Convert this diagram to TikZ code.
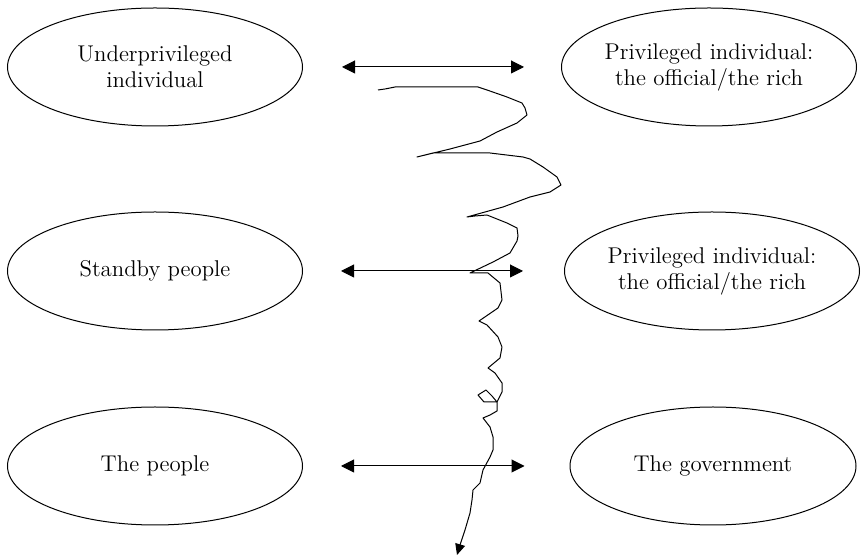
\documentclass[tikz,border=0pt]{standalone}
\usetikzlibrary{shapes.geometric, arrows.meta}

\begin{document}
\begin{tikzpicture}[x=0.5pt, y=-0.5pt,
    party/.style={draw, ellipse, line width=0.5pt, minimum width=147.5pt, minimum height=59pt,
        inner sep=0pt, inner xsep=-1.5pt, align=center, font=\fontsize{11.4}{13}\selectfont},
    relation/.style={line width=0.5pt, {Triangle[length=6.5pt,width=6.5pt]}-{Triangle[length=6.5pt,width=6.5pt]}}]
\useasboundingbox (0,0) rectangle (862,560);

% Left column
\node[party] (under) at (155,67) {Underprivileged\\individual};
\node[party] (standby) at (155,271) {Standby people};
\node[party] (people) at (155,466) {The people};

% Right column
\node[party] (priv1) at (709,67) {Privileged individual:\\the official/the rich};
\node[party] (priv2) at (712,271) {Privileged individual:\\the official/the rich};
\node[party, minimum width=143pt] (gov) at (713,466) {The government};

% Relations
\draw[relation, shorten <=19.5pt, shorten >=18.5pt] (under) -- (priv1);
\draw[relation, shorten <=19pt, shorten >=20.5pt] (standby) -- (priv2);
\draw[relation, shorten <=19pt, shorten >=22.5pt] (people) -- (gov);

% Hand-drawn line
\draw[line width=0.5pt, line join=round, -{Triangle[length=5.5pt,width=5pt]}]
    (378,90) -- (385,89) -- (395,87) -- (478,87) -- (487,90) -- (507,97) -- (522,103)
    -- (525,108) -- (527,115) -- (517,123) -- (497,132) -- (480,141) -- (450,149)
    -- (417,157) -- (425,155) -- (433,153) -- (490,153) -- (523,157) -- (530,159)
    -- (543,167) -- (557,177) -- (561,185) -- (550,192) -- (530,197) -- (503,207)
    -- (467,217) -- (475,216) -- (487,215) -- (497,219) -- (507,223) -- (517,228)
    -- (518,236) -- (517,241) -- (510,253) -- (493,262) -- (470,273) -- (488,273)
    -- (500,283) -- (502,300) -- (498,308) -- (479,321) -- (487,325) -- (498,337)
    -- (502,347) -- (500,358) -- (488,368) -- (495,373) -- (502,383) -- (502,392)
    -- (497,402) -- (484,402) -- (478,395) -- (486,390) -- (492,396) -- (497,402)
    -- (497,411) -- (490,415) -- (483,418) -- (490,427) -- (493,437) -- (493,450)
    -- (490,457) -- (483,470) -- (480,483) -- (473,490) -- (472,500) -- (470,513)
    -- (465,530) -- (460,545) -- (457,555);
\end{tikzpicture}
\end{document}
